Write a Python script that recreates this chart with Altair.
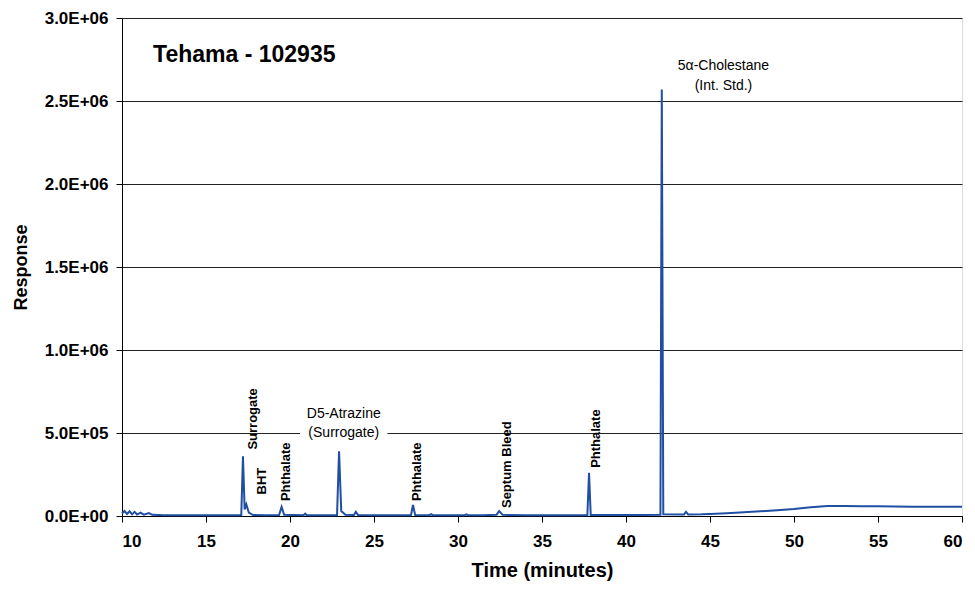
import altair as alt
import pandas as pd

# ---- chromatogram trace ----
time_min = [10.0, 10.15, 10.3, 10.45, 10.6, 10.75, 10.9, 11.1, 11.3, 11.6, 11.8, 12.5, 13.5, 14.5,
            15.5, 16.5, 17.1, 17.2, 17.3, 17.4, 17.55, 17.8, 18.5, 19.35, 19.5, 19.65, 20.8,
            20.9, 21.0, 22.0, 22.8, 22.92, 23.05, 23.3, 23.8, 23.92, 24.05, 25.0, 26.0, 27.2,
            27.32, 27.45, 28.3, 28.4, 28.5, 29.5, 30.4, 30.5, 30.6, 31.5, 32.3, 32.45, 32.65,
            34.0, 36.0, 37.7, 37.8, 37.9, 39.0, 41.0, 42.05, 42.13, 42.22, 43.45, 43.57, 43.7,
            44.5, 45.0, 46.0, 47.0, 48.0, 49.0, 50.0, 51.0, 52.0, 53.0, 54.0, 55.0, 56.0,
            57.0, 58.0, 59.0, 60.0]
response = [15000, 30000, 12000, 28000, 10000, 25000, 9000, 20000, 8000, 18000, 7000, 5000, 4000, 5000,
            4000, 5000, 5000, 360000, 40000, 70000, 20000, 6000, 5000, 6000, 55000, 7000, 5000,
            14000, 5000, 5000, 5000, 390000, 30000, 8000, 6000, 25000, 6000, 5000, 4000, 5000,
            66000, 6000, 5000, 11000, 5000, 5000, 5000, 10000, 5000, 5000, 8000, 30000, 7000,
            5000, 5000, 5000, 260000, 6000, 6000, 6000, 7000, 2570000, 10000, 9000, 25000, 9000,
            10000, 12000, 17000, 22000, 28000, 35000, 42000, 52000, 60000, 60000, 59000, 58000, 57000,
            56000, 56000, 55000, 55000]

# ---- rotated peak labels ----
rot_text = ["Surrogate", "BHT", "Phthalate", "Phthalate", "Septum Bleed", "Phthalate"]
rot_x = [17.8, 18.35, 19.75, 27.55, 32.9, 38.2]
rot_y = [400000, 130000, 90000, 90000, 48000, 290000]

# ---- horizontal labels ----
hor_text = ["D5-Atrazine", "(Surrogate)", "5\u03b1-Cholestane", "(Int. Std.)"]
hor_x = [23.2, 23.2, 45.8, 45.8]
hor_y = [612000, 498000, 2710000, 2590000]

# ---- chart title inside the plot ----
title_text = ["Tehama - 102935"]
title_x = [11.85]
title_y = [2780000]

FONT = "Liberation Sans"
BLUE = "#1f4ea3"

trace = pd.DataFrame({"t": time_min, "r": response})
rot = pd.DataFrame({"label": rot_text, "t": rot_x, "r": rot_y})
hor = pd.DataFrame({"label": hor_text, "t": hor_x, "r": hor_y})
ttl = pd.DataFrame({"label": title_text, "t": title_x, "r": title_y})

x_scale = alt.Scale(domain=[10, 60], nice=False, zero=False)
y_scale = alt.Scale(domain=[0, 3000000], nice=False)

exp = "floor(log(datum.value)/LN10 + 1e-9)"
label_expr = ("datum.value == 0 ? '0.0E+00' : format(datum.value / pow(10, " + exp + "), '.1f') + 'E+' + ("
              + exp + " < 10 ? '0' : '') + " + exp)

x_axis = alt.Axis(values=list(range(10, 61, 5)), title="Time (minutes)", grid=False,
                  labelFont=FONT, labelFontWeight="bold", labelFontSize=17, labelColor="black",
                  titleFont=FONT, titleFontWeight="bold", titleFontSize=20, titleColor="black",
                  domainColor="black", tickColor="black", tickSize=6, labelPadding=11,
                  titlePadding=11)
y_axis = alt.Axis(values=[0, 500000, 1000000, 1500000, 2000000, 2500000, 3000000],
                  title="Response", labelExpr=label_expr, grid=True, gridColor="#222222",
                  gridWidth=1, labelFont=FONT, labelFontWeight="bold", labelFontSize=17,
                  labelColor="black", titleFont=FONT, titleFontWeight="bold", titleFontSize=18,
                  titleColor="black", domainColor="black", tickColor="black", tickSize=6,
                  labelPadding=8, titlePadding=14)

line = alt.Chart(trace).mark_line(color=BLUE, strokeWidth=2).encode(
    x=alt.X("t:Q", scale=x_scale, axis=x_axis),
    y=alt.Y("r:Q", scale=y_scale, axis=y_axis),
)

# white box that breaks the gridline behind the D5-Atrazine annotation
box = alt.Chart(hor).transform_filter(alt.datum.label == "(Surrogate)").transform_calculate(
    t1="datum.t - 2.6", t2="datum.t + 2.6", r1="datum.r - 25000", r2="datum.r + 25000"
).mark_rect(color="white").encode(
    x=alt.X("t1:Q", scale=x_scale), x2="t2:Q",
    y=alt.Y("r1:Q", scale=y_scale), y2="r2:Q",
)

rot_labels = alt.Chart(rot).mark_text(angle=270, align="left", baseline="middle", font=FONT,
                                      fontSize=13, fontWeight="bold", color="black").encode(
    x=alt.X("t:Q", scale=x_scale), y=alt.Y("r:Q", scale=y_scale), text="label:N")

hor_labels = alt.Chart(hor).mark_text(align="center", baseline="middle", font=FONT,
                                      fontSize=14, color="black").encode(
    x=alt.X("t:Q", scale=x_scale), y=alt.Y("r:Q", scale=y_scale), text="label:N")

title_mark = alt.Chart(ttl).mark_text(align="left", baseline="middle", font=FONT,
                                      fontSize=23, fontWeight="bold", color="black").encode(
    x=alt.X("t:Q", scale=x_scale), y=alt.Y("r:Q", scale=y_scale), text="label:N")

chart = alt.layer(line, box, rot_labels, hor_labels, title_mark).properties(
    width=840, height=498,
    autosize=alt.AutoSizeParams(type="none"),
    padding={"left": 114, "top": 10, "right": 5, "bottom": 70},
).configure_view(stroke="#555555", strokeWidth=1).configure(background="white")

chart.save("out.html", embed_options={"renderer": "svg", "actions": False})
